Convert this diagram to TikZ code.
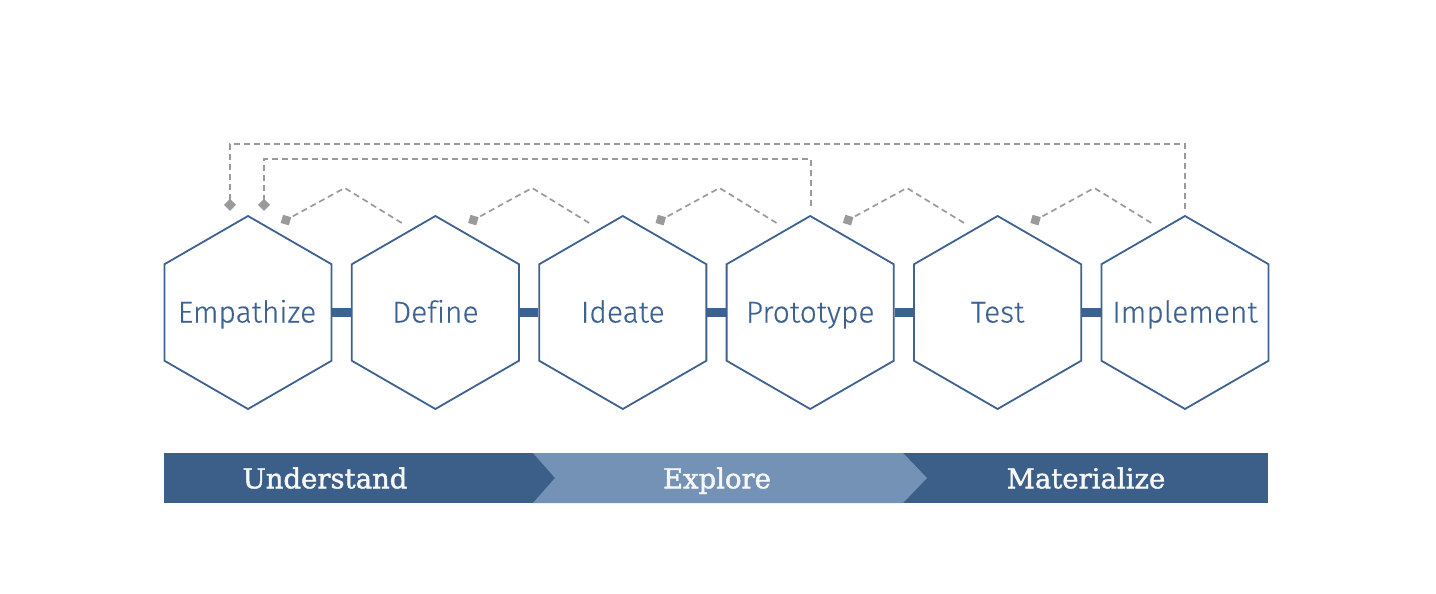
\documentclass[tikz,border=0pt]{standalone}
\usepackage{fontspec}
\usetikzlibrary{shapes.geometric,arrows.meta,calc}
\IfFontExistsTF{Fira Sans Light}
  {\newfontfamily\hexfont[Ligatures={NoCommon},FakeBold=0.4]{Fira Sans Light}}
  {\newfontfamily\hexfont[Ligatures={NoCommon}]{Fira Sans}}
\newfontfamily\barfont[FakeBold=1.6]{DejaVu Serif}
\definecolor{hexblue}{HTML}{3D6290}
\definecolor{bardark}{HTML}{3C5F8A}
\definecolor{barlight}{HTML}{7491B6}
\definecolor{loopgray}{HTML}{9A9A9A}
\definecolor{bartext}{HTML}{F7F7F7}
\tikzset{
  hexbox/.style={regular polygon, regular polygon sides=6, shape border rotate=30,
    minimum size=193pt, inner sep=0pt, draw=hexblue, line width=1.8pt, fill=white},
  hexlabel/.style={anchor=base, text=hexblue, font=\hexfont\fontsize{30}{34}\selectfont, inner sep=0pt},
  linkbar/.style={draw=hexblue, line width=9pt},
  loopline/.style={draw=loopgray, line width=1.7pt, dash pattern=on 6pt off 4pt,
    -{Diamond[length=12pt,width=12pt,sep=0pt,fill=loopgray]}},
  barlabel/.style={anchor=base, text=bartext, font=\barfont\fontsize{27.5}{30}\selectfont, inner sep=0pt}
}
\begin{document}
\begin{tikzpicture}[x=1pt,y=-1pt]
\useasboundingbox (0,0) rectangle (1436,594);

% stage hexagons
\foreach \i/\cx in {1/248,2/435.4,3/622.8,4/810.2,5/997.6,6/1185}
  \node[hexbox] (h\i) at (\cx,312.5) {};

% links between neighbouring stages
\foreach \a/\b in {1/2,2/3,3/4,4/5,5/6}
  \draw[linkbar] (h\a.east) -- (h\b.west);

% stage names
\node[hexlabel] (t1) at ($(h1.center)+(-1,10)$) {Empathize};
\node[hexlabel] (t2) at ($(h2.center)+(0,10)$) {Define};
\node[hexlabel] (t3) at ($(h3.center)+(0,10)$) {Ideate};
\node[hexlabel] (t4) at ($(h4.center)+(0,10)$) {Prototype};
\node[hexlabel] (t5) at ($(h5.center)+(0,10)$) {Test};
\node[hexlabel] (t6) at ($(h6.center)+(0,10)$) {Implement};

% short feedback loops back to the previous stage
\foreach \a/\b in {1/2,2/3,3/4,4/5,5/6}{
  \coordinate (m\a) at ($(h\a.north)!0.5!(h\b.north)$);
  \coordinate (s\a) at ($(m\a)+(60,8)$);
  \coordinate (p\a) at ($(m\a)+(3,-27)$);
  \coordinate (e\a) at ($(m\a)+(-61,8)$);
  \draw[loopline] (s\a) -- (p\a) -- (e\a);
}

% long feedback loops
\coordinate (outA) at ($(h6.north)+(0,-6)$);
\coordinate (outB) at ($(h1.north)+(-18,-4)$);
\draw[loopline] (outA) -- ++(0,-65) -| (outB);
\coordinate (inA) at ($(h4.north)+(1,-9)$);
\coordinate (inB) at ($(h1.north)+(16,-4)$);
\draw[loopline] (inA) -- ++(0,-47) -| (inB);

% phase bar
\fill[bardark] (164,453) rectangle (1268,503);
\fill[barlight] (533,453) -- (903,453) -- (927,478) -- (903,503) -- (533,503) -- (555,478) -- cycle;
\node[barlabel] (u) at (325,488.3) {Understand};
\node[barlabel] (x) at (717,488.3) {Explore};
\node[barlabel] (mz) at (1086,488.3) {Materialize};
\end{tikzpicture}
\end{document}
